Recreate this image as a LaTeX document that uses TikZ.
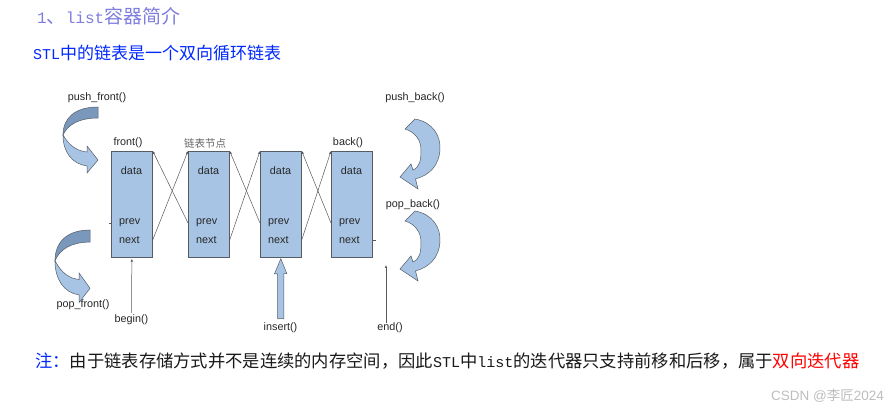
\documentclass[tikz,border=0pt]{standalone}
\usepackage{fontspec}
\setmainfont{Liberation Sans}
\newfontfamily\cjk{Noto Sans CJK SC}
\newfontfamily\mono{Liberation Mono}
\usetikzlibrary{arrows.meta}
\definecolor{nodeblue}{RGB}{167,196,228}
\definecolor{ribbondark}{RGB}{122,152,188}
\definecolor{edgegray}{RGB}{85,92,102}
\definecolor{titlepurple}{RGB}{125,125,222}
\definecolor{textblue}{RGB}{0,40,255}
\definecolor{markgray}{RGB}{190,190,190}

\begin{document}
\begin{tikzpicture}[x=1pt, y=-1pt, every node/.style={font=\fontsize{10.8}{12}\selectfont, inner sep=0pt, text=black!85},
    listbox/.style={draw=edgegray, fill=nodeblue, line width=0.7pt, minimum width=41pt, minimum height=106pt, anchor=north west},
    link/.style={draw=black!65, line width=0.5pt, -{Latex[length=3pt,width=2.5pt]}},
    ribbon/.style={draw=edgegray, line width=0.5pt, fill=nodeblue},
    frontarrow/.pic={
      \draw[ribbon, fill=ribbondark] (0,0) .. controls (-23,0) and (-35,11) .. (-35,28) .. controls (-30,17) and (-18,11) .. (0,11) -- cycle;
      \draw[ribbon] (-35,28) .. controls (-28,40) and (-20,44) .. (-11,45) -- (-11,39) -- (0,53) -- (-11,66) -- (-11,59) .. controls (-26,57) and (-35,45) .. (-35,28) -- cycle;
    },
    backarrow/.pic={
      \draw[ribbon] (15,-1) .. controls (32,2) and (41,15) .. (40,30) .. controls (39,45) and (30,55) .. (15.5,59) -- (18,69) -- (0,57) -- (11,44) -- (13,50) .. controls (20,47) and (21,40) .. (21,30) .. controls (21,20) and (15,12) .. (5,9) -- cycle;
    }]
  \fill[white] (0,0) rectangle (887,411);
  \useasboundingbox (0,0) rectangle (887,411);

  \node[anchor=west, text=titlepurple, font=\cjk\fontsize{19}{22}\selectfont] (title) at (37,16) {{\mono\fontsize{16}{19}\selectfont 1}、{\mono\fontsize{16}{19}\selectfont list}容器简介};
  \node[anchor=west, text=textblue, font=\cjk\fontsize{17}{20}\selectfont] (intro) at (33,53) {{\mono\fontsize{15}{18}\selectfont STL}中的链表是一个双向循环链表};

  \foreach \i/\x in {1/111, 2/188, 3/260, 4/331}{
    \node[listbox] (box\i) at (\x,151) {};
    \node (data\i) at (\x+20.5,171) {data};
    \node[anchor=west] (prev\i) at (\x+8,223) {prev};
    \node[anchor=west] (next\i) at (\x+8,240) {next};
  }
  \foreach \i/\j in {1/2, 2/3, 3/4}{
    \draw[link] (box\j.west |- prev\j) -- (box\i.north east);
    \draw[link] (box\i.east |- next\i) -- (box\j.north west);
  }
  \draw[draw=black!65, line width=0.5pt] (box1.west |- prev1) -- ++(-2,0);
  \draw[draw=black!65, line width=0.5pt] (box4.east |- next4) -- ++(3,0);

  \node (front) at (128,143) {front()};
  \node[font=\cjk\fontsize{10.5}{12}\selectfont, text=black!60] (nodelabel) at (205,143) {链表节点};
  \node (back) at (348,143) {back()};
  \node (pushfront) at (97,98) {push\_front()};
  \node (popfront) at (83,305) {pop\_front()};
  \node (pushback) at (415,98) {push\_back()};
  \node (popback) at (413,205) {pop\_back()};
  \node (beginit) at (131.5,320) {begin()};
  \node (insertit) at (280.5,328) {insert()};
  \node (endit) at (390,328) {end()};
  \coordinate (endtip) at (386,265);

  \pic (pushfrontarrow) at (98,107) {frontarrow};
  \pic[yscale=1.1] (popfrontarrow) at (90,230) {frontarrow};
  \pic (pushbackarrow) at (400,120) {backarrow};
  \pic (popbackarrow) at (400,212) {backarrow};

  \draw[link] ([yshift=2pt]beginit.north) -- ([yshift=-1pt]box1.south);
  \draw[link] (endtip |- endit.north) -- (endtip);
  \draw[ribbon] ([xshift=-3pt,yshift=4pt]insertit.north) -- ++(0,-45) -- ++(-3,0) -- ([yshift=-1pt]box3.south) -- ++(6,15) -- ++(-3,0) -- ++(0,45) -- cycle;

  \node[anchor=west, font=\cjk\fontsize{17.3}{20}\selectfont, text=black!90] (note) at (35,361) {\textcolor{textblue}{注：}由于链表存储方式并不是连续的内存空间，因此{\mono\fontsize{15}{18}\selectfont STL}中{\mono\fontsize{15}{18}\selectfont list}的迭代器只支持前移和后移，属于\textcolor{red}{双向迭代器}};
  \node[anchor=east, text=markgray, font=\fontsize{13.5}{16}\selectfont] (mark) at (884,396) {CSDN @{\cjk 李匠}2024};
\end{tikzpicture}
\end{document}
